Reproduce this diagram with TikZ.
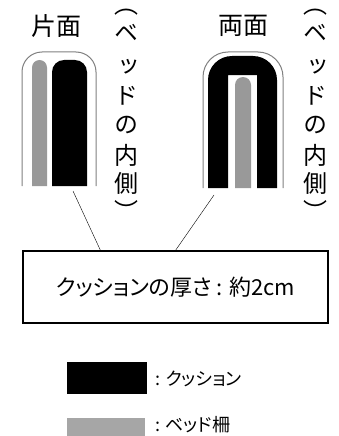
\documentclass[tikz,border=0pt]{standalone}
\usepackage{fontspec}
\setmainfont{Noto Sans CJK JP}[RawFeature=+palt]
\newfontfamily\vertfont{Noto Sans CJK JP}[RawFeature=+vert]
\newcommand{\sidetext}{（\\[1pt]ベ\\[7pt]ッ\\[2pt]ド\\[2pt]の\\[4pt]内\\[1pt]側\\[1pt]）}
\tikzset{
  outline/.style={draw=black!50, line width=1pt},
  cushion/.style={fill=black},
  rail/.style={fill=black!40},
  sidelabel/.style={align=center, inner sep=0pt, font=\vertfont\fontsize{24}{27}\selectfont},
  title/.style={inner sep=0pt, font=\fontsize{25}{28}\selectfont},
  infobox/.style={draw, line width=1.2pt, minimum width=305pt, minimum height=72pt, inner sep=0pt, font=\fontsize{22}{26}\selectfont},
  legendtext/.style={inner sep=0pt, anchor=west, font=\fontsize{18}{22}\selectfont}
}
\begin{document}
\begin{tikzpicture}[x=1pt, y=-1pt]
  \useasboundingbox (0,0) rectangle (338,436);
  % one side
  \node[title] (singletitle) at (56,26) {片面};
  \draw[outline, rounded corners=20pt] (22,186) -- (22,52) -- (96,52) -- (96,186);
  \fill[rail] (32,186) [rounded corners=7.5pt] -- (32,60) -- (47,60) [sharp corners] -- (47,186) -- cycle;
  \fill[cushion] (52,186) [rounded corners=12pt] -- (52,60) -- (87,60) [sharp corners] -- (87,186) -- cycle;
  \node[sidelabel] (sideone) at (126,115) {\sidetext};
  % both sides
  \node[title] (doubletitle) at (243,26) {両面};
  \draw[outline, rounded corners=25pt] (203,188) -- (203,52) -- (283,52) -- (283,188);
  \fill[cushion] (208,188) [rounded corners=24pt] -- (208,56) -- (277,56) [sharp corners] -- (277,188) -- (257,188) -- (257,75) -- (228,75) -- (228,188) -- cycle;
  \fill[rail] (235,188) [rounded corners=8pt] -- (235,77) -- (251,77) [sharp corners] -- (251,188) -- cycle;
  \node[sidelabel] (sidetwo) at (315,115) {\sidetext};
  % thickness note
  \node[infobox] (note) at (175.5,287) {クッションの厚さ : 約2cm};
  \coordinate (singleend) at (73,191);
  \coordinate (doubleend) at (214,195);
  \draw (singleend) -- (note.154);
  \draw (doubleend) -- (note.north);
  % legend
  \node[cushion, minimum width=80pt, minimum height=32pt, inner sep=0pt] (keycushion) at (107,378) {};
  \node[legendtext] (keycushiontext) at (155,379) {: クッション};
  \node[fill=black!35, minimum width=78pt, minimum height=18pt, inner sep=0pt] (keyrail) at (106,427) {};
  \node[legendtext] (keyrailtext) at (155,425) {: ベッド柵};
\end{tikzpicture}
\end{document}
